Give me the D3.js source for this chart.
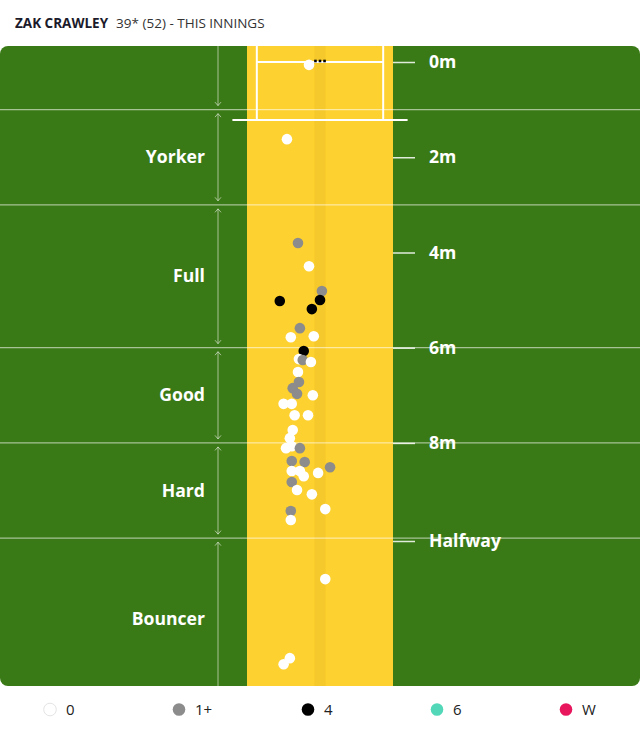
<!DOCTYPE html>
<html>
<head>
<meta charset="utf-8">
<script src="https://cdn.jsdelivr.net/npm/d3@7"></script>
<style>
  html, body { margin: 0; padding: 0; background: #fff; }
  svg { display: block; font-family: "Open Sans", "Noto Sans", sans-serif; }
</style>
</head>
<body>
<svg id="chart" width="640" height="733"></svg>
<script>
// ---------- data ----------
const batterName = "ZAK CRAWLEY";
const inningsText = "39* (52) - THIS INNINGS";

// length (m from stumps) and lateral (m from middle stump, negative = left on picture)
const ballLength = [0.06, 1.62, 3.80, 4.29, 4.81, 5.02, 5.00, 5.19, 5.59, 5.78, 5.76,
  6.07, 6.24, 6.26, 6.30, 6.51, 6.72, 6.85, 6.97, 7.00, 7.18, 7.18, 7.42, 7.42,
  7.73, 7.90, 8.11, 8.07, 8.11, 8.38, 8.40, 8.51, 8.59, 8.59, 8.70, 8.63, 8.82,
  8.99, 9.08, 9.39, 9.43, 9.62, 10.86, 12.52, 12.65];
const ballLateral = [-0.23, -0.69, -0.46, -0.23, 0.04, -0.84, 0.00, -0.17, -0.42, -0.61, -0.13,
  -0.34, -0.44, -0.36, -0.19, -0.46, -0.44, -0.57, -0.48, -0.15, -0.76, -0.59, -0.53, -0.25,
  -0.57, -0.63, -0.71, -0.59, -0.42, -0.59, -0.32, 0.21, -0.59, -0.42, -0.34, -0.04, -0.59,
  -0.48, -0.17, 0.11, -0.61, -0.61, 0.11, -0.63, -0.76];
const ballOutcome = ["0", "0", "1+", "0", "1+", "4", "4", "4", "1+", "0", "0",
  "4", "0", "1+", "0", "0", "1+", "1+", "1+", "0", "0", "0", "0", "0",
  "0", "0", "0", "0", "1+", "1+", "1+", "1+", "0", "0", "0", "0", "1+",
  "0", "0", "0", "1+", "0", "0", "0", "0"];

const outcomeLabels = ["0", "1+", "4", "6", "W"];
const outcomeColors = ["#ffffff", "#8c8c8c", "#000000", "#52d8b8", "#e8175d"];

const zoneNames = ["Yorker", "Full", "Good", "Hard", "Bouncer"];
const zoneStart = [1, 3, 6, 8, 10];
const zoneEnd = [3, 6, 8, 10, 13.4];

const tickValues = [0, 2, 4, 6, 8, 10.06];
const tickLabels = ["0m", "2m", "4m", "6m", "8m", "Halfway"];

// ---------- scales ----------
const svg = d3.select("#chart");
const y = d3.scaleLinear().domain([0, 10.06]).range([62, 541]);
const x = d3.scaleLinear().domain([-1.525, 1.525]).range([247, 393]);
const color = d3.scaleOrdinal().domain(outcomeLabels).range(outcomeColors);

const panelTop = 46, panelBottom = 686, W = 640;

// ---------- header ----------
const head = svg.append("text").attr("x", 15).attr("y", 27.5)
  .attr("font-size", 13.5).attr("fill", "#1b1b2b");
head.append("tspan").attr("font-weight", 700).text(batterName);
head.append("tspan").attr("dx", 8).attr("font-weight", 400).attr("fill", "#333")
  .text(inningsText);

// ---------- panel ----------
svg.append("defs").append("clipPath").attr("id", "panelClip")
  .append("rect").attr("x", 0).attr("y", panelTop).attr("width", W)
  .attr("height", panelBottom - panelTop).attr("rx", 8);

const g = svg.append("g").attr("clip-path", "url(#panelClip)");
g.append("rect").attr("x", 0).attr("y", panelTop).attr("width", W)
  .attr("height", panelBottom - panelTop).attr("fill", "#3a7a16");

// pitch
g.append("rect").attr("x", x(-1.525)).attr("y", panelTop)
  .attr("width", x(1.525) - x(-1.525)).attr("height", panelBottom - panelTop)
  .attr("fill", "#fdd12f");
// stump line strip
g.append("rect").attr("x", x(-0.114)).attr("y", panelTop)
  .attr("width", x(0.114) - x(-0.114)).attr("height", panelBottom - panelTop)
  .attr("fill", "#f2c52b").attr("opacity", 0.8);

// zone boundary lines
g.selectAll("line.zone").data(zoneStart).join("line").attr("class", "zone")
  .attr("x1", 0).attr("x2", W)
  .attr("y1", d => y(d)).attr("y2", d => y(d))
  .attr("stroke", "rgba(255,255,255,0.55)").attr("stroke-width", 1.3);

// creases
const crease = "#ffffff";
g.append("line").attr("x1", x(-1.32)).attr("x2", x(-1.32)).attr("y1", panelTop).attr("y2", y(1.22))
  .attr("stroke", crease).attr("stroke-width", 2);
g.append("line").attr("x1", x(1.32)).attr("x2", x(1.32)).attr("y1", panelTop).attr("y2", y(1.22))
  .attr("stroke", crease).attr("stroke-width", 2);
g.append("line").attr("x1", x(-1.32)).attr("x2", x(1.32)).attr("y1", y(0)).attr("y2", y(0))
  .attr("stroke", crease).attr("stroke-width", 2);
g.append("line").attr("x1", x(-1.83)).attr("x2", x(1.83)).attr("y1", y(1.22)).attr("y2", y(1.22))
  .attr("stroke", crease).attr("stroke-width", 2);

// arrows on the left
const arrowX = 218;
const segBounds = [y.invert(panelTop), ...zoneStart, 13.4];
const arrowCol = "rgba(255,255,255,0.55)";
for (let i = 0; i < segBounds.length - 1; i++) {
  const a = y(segBounds[i]), b = y(segBounds[i + 1]);
  const topEdge = i === 0, botEdge = i === segBounds.length - 2;
  const y1 = topEdge ? a : a + 4, y2 = botEdge ? b : b - 4;
  g.append("line").attr("x1", arrowX).attr("x2", arrowX).attr("y1", y1).attr("y2", y2)
    .attr("stroke", arrowCol).attr("stroke-width", 1);
  if (!topEdge) {
    g.append("path").attr("d", `M${arrowX - 3},${y1 + 3.5}L${arrowX},${y1}L${arrowX + 3},${y1 + 3.5}`)
      .attr("fill", "none").attr("stroke", arrowCol).attr("stroke-width", 1);
  }
  if (!botEdge) {
    g.append("path").attr("d", `M${arrowX - 3},${y2 - 3.5}L${arrowX},${y2}L${arrowX + 3},${y2 - 3.5}`)
      .attr("fill", "none").attr("stroke", arrowCol).attr("stroke-width", 1);
  }
}

// zone labels
g.selectAll("text.zoneLabel").data(zoneNames).join("text").attr("class", "zoneLabel")
  .attr("x", 205).attr("y", (d, i) => y((zoneStart[i] + zoneEnd[i]) / 2))
  .attr("dy", "0.35em").attr("text-anchor", "end")
  .attr("font-size", 17.6).attr("font-weight", 700).attr("fill", "#fff")
  .text(d => d);

// distance axis on the right
const axis = d3.axisRight(y).tickValues(tickValues)
  .tickFormat((d, i) => tickLabels[i]).tickSize(22).tickPadding(14);
const ax = g.append("g").attr("transform", `translate(${x(1.525)},0)`).call(axis);
ax.select(".domain").remove();
ax.selectAll(".tick line").attr("stroke", "rgba(255,255,255,0.85)").attr("stroke-width", 1.5);
ax.selectAll(".tick text").attr("fill", "#fff").attr("font-size", 17.6)
  .attr("font-weight", 700).attr("font-family", "'Open Sans', sans-serif");

// stumps
g.selectAll("rect.stump").data([-0.095, 0, 0.095]).join("rect").attr("class", "stump")
  .attr("x", d => x(d) - 1.3).attr("y", y(0) - 2.3).attr("width", 2.6).attr("height", 2.6)
  .attr("fill", "#000");

// balls
const balls = ballLength.map((l, i) => ({ l, lat: ballLateral[i], o: ballOutcome[i] }));
g.selectAll("circle.ball").data(balls).join("circle").attr("class", "ball")
  .attr("cx", d => x(d.lat)).attr("cy", d => y(d.l)).attr("r", 5.3)
  .attr("fill", d => color(d.o));

// ---------- legend ----------
const lx = d3.scalePoint().domain(outcomeLabels).range([50, 566]);
const leg = svg.append("g").selectAll("g").data(outcomeLabels).join("g")
  .attr("transform", d => `translate(${lx(d)},709.5)`);
leg.append("circle").attr("r", 6.3).attr("fill", d => color(d))
  .attr("stroke", d => d === "0" ? "#e4e4e4" : "none").attr("stroke-width", 1);
leg.append("text").attr("x", 16).attr("dy", "0.36em").attr("font-size", 15)
  .attr("fill", "#222").text(d => d);
</script>
</body>
</html>
